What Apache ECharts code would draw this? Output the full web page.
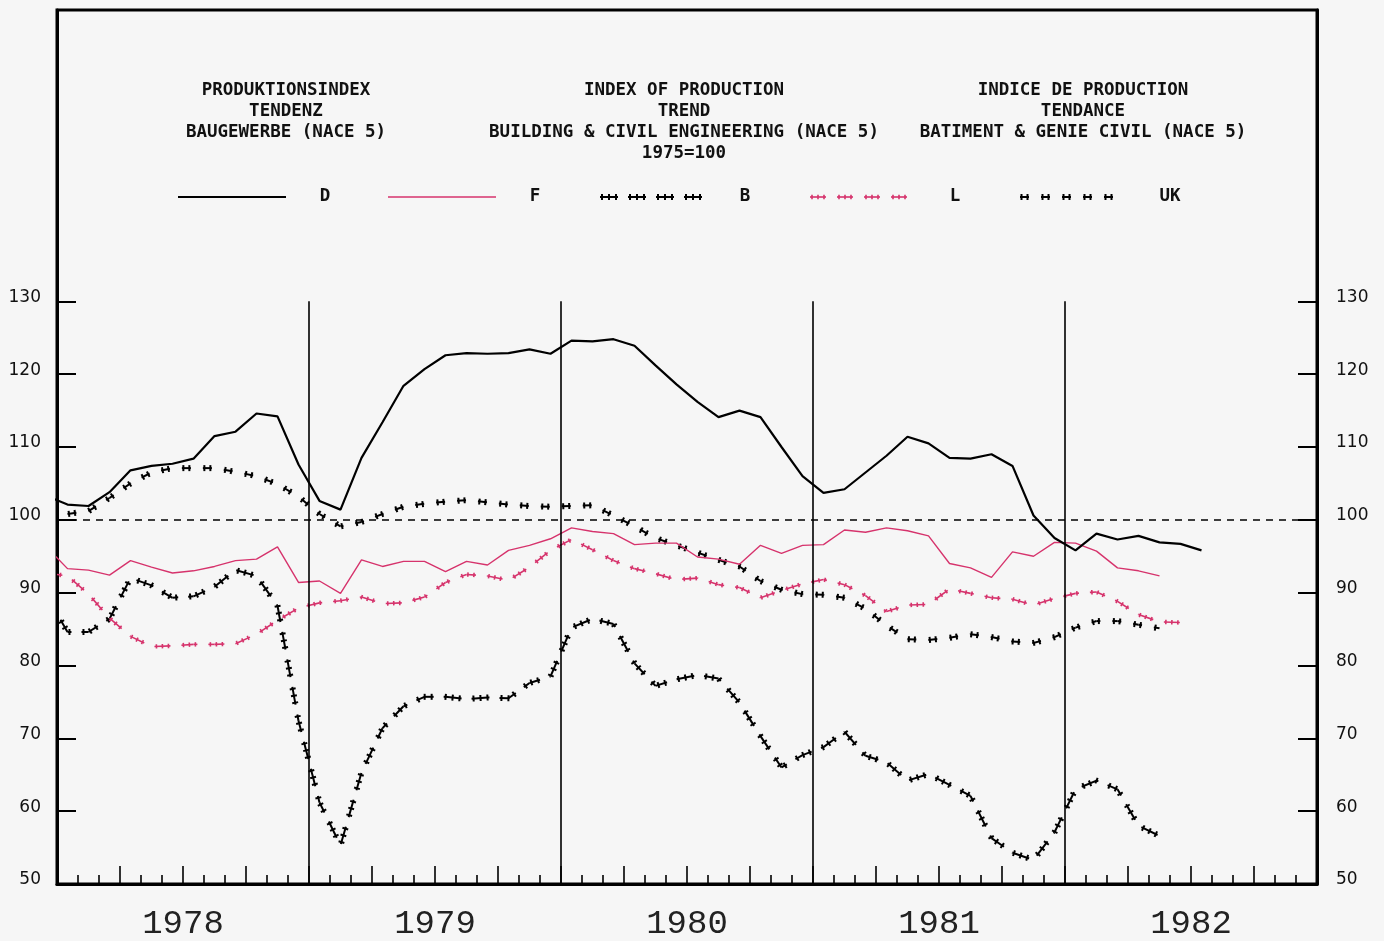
<!DOCTYPE html>
<html><head><meta charset="utf-8">
<script src="https://cdn.jsdelivr.net/npm/echarts@6/dist/echarts.min.js"></script>
<style>html,body{margin:0;padding:0;background:#f6f6f6;} #c{width:1384px;height:941px;}</style>
</head><body><div id="c"></div>
<script>
// x of first value: mid-December 1977, in months since 1 Jan 1978 (one value per month after it)
const X0 = -0.5;
const yearLabels = ['1978', '1979', '1980', '1981', '1982'];
const yTickValues = [50, 60, 70, 80, 90, 100, 110, 120, 130];
const titleDE = ['PRODUKTIONSINDEX', 'TENDENZ', 'BAUGEWERBE (NACE 5)'];
const titleEN = ['INDEX OF PRODUCTION', 'TREND', 'BUILDING & CIVIL ENGINEERING (NACE 5)', '1975=100'];
const titleFR = ['INDICE DE PRODUCTION', 'TENDANCE', 'BATIMENT & GENIE CIVIL (NACE 5)'];
const seriesNames = ['D', 'F', 'B', 'L', 'UK'];

const valuesD = [103.3, 102.1, 101.9, 103.8, 106.8, 107.4, 107.7, 108.4, 111.5, 112.1, 114.6, 114.2,
  107.6, 102.6, 101.4, 108.5, 113.4, 118.4, 120.7, 122.6, 122.9, 122.8, 122.9, 123.4,
  122.8, 124.6, 124.5, 124.8, 123.9, 121.2, 118.6, 116.2, 114.1, 115.0, 114.1, 110.0,
  106.0, 103.7, 104.2, 106.5, 108.8, 111.4, 110.5, 108.5, 108.4, 109.0, 107.4, 100.6,
  97.5, 95.8, 98.1, 97.3, 97.8, 96.9, 96.7, 95.8];
const valuesF = [96.3, 93.3, 93.1, 92.4, 94.4, 93.5, 92.7, 93.0, 93.6, 94.4, 94.6, 96.3,
  91.4, 91.6, 89.9, 94.5, 93.6, 94.3, 94.3, 92.9, 94.3, 93.8, 95.8, 96.5,
  97.4, 98.9, 98.4, 98.1, 96.6, 96.8, 96.8, 94.9, 94.6, 93.9, 96.5, 95.4,
  96.5, 96.6, 98.6, 98.3, 98.9, 98.5, 97.8, 94.0, 93.4, 92.1, 95.6, 95.0,
  96.9, 96.8, 95.7, 93.4, 93.0, 92.3];
const valuesB = [89.6, 84.6, 84.6, 86.4, 92.0, 91.0, 89.3, 89.5, 90.8, 93.1, 92.3, 88.2,
  72.4, 61.2, 55.3, 65.3, 71.4, 74.4, 75.7, 75.7, 75.4, 75.6, 75.5, 77.6,
  78.5, 85.2, 86.4, 85.7, 80.3, 77.2, 78.1, 78.7, 78.2, 74.9, 70.3, 66.0,
  67.7, 68.8, 70.9, 67.6, 66.7, 64.2, 65.1, 63.6, 62.1, 56.3, 54.3, 53.3,
  57.1, 63.0, 64.2, 63.0, 58.0, 56.6];
const valuesL = [92.7, 92.3, 89.8, 86.5, 84.0, 82.6, 82.7, 82.9, 82.9, 83.0, 84.3, 86.2,
  87.9, 88.6, 88.9, 89.4, 88.5, 88.6, 89.4, 91.4, 92.5, 92.3, 91.7, 93.5,
  95.8, 97.3, 95.9, 94.4, 93.3, 92.6, 91.8, 92.0, 91.1, 90.7, 89.3, 90.3,
  91.2, 91.8, 91.1, 89.6, 87.4, 88.3, 88.4, 90.5, 89.9, 89.3, 89.1, 88.3,
  89.2, 89.9, 90.1, 88.8, 87.0, 86.0, 85.9];
const valuesUK = [100.8, 100.8, 101.2, 103.0, 105.0, 106.5, 107.1, 107.1, 107.1, 106.6, 106.0, 104.9,
  103.2, 100.8, 99.1, 99.7, 100.8, 101.8, 102.2, 102.5, 102.7, 102.4, 102.1, 101.9,
  101.8, 101.9, 102.0, 100.6, 99.1, 97.5, 96.5, 95.5, 94.5, 93.6, 91.6, 90.4,
  89.8, 89.7, 89.3, 87.8, 85.5, 83.6, 83.5, 83.8, 84.3, 83.9, 83.3, 83.1,
  83.9, 85.2, 86.1, 86.1, 85.6, 85.1];

const BLACK = '#000000';
const PINK = '#d6336c';
const TXT_FONT = 'bold 17.5px "DejaVu Sans Mono"';

// dash patterns with perpendicular cross-bars
const patB = {period: 28, dash: 18, ticks: [2, 9, 16], tick: 3, width: 2, tickWidth: 2};
const patUK = {period: 21, dash: 9, ticks: [1.5, 7.5], tick: 3, width: 2, tickWidth: 2};
const patL = {period: 27, dash: 16, ticks: [2, 8, 14], tick: 2.2, width: 1.6, tickWidth: 1.6};

function toPairs(values) { return values.map((v, i) => [X0 + i, v]); }

function patternPieces(a, b, s0, color, cfg) {
  const len = Math.hypot(b[0] - a[0], b[1] - a[1]);
  const out = [];
  if (len <= 0) return out;
  const s1 = s0 + len;
  const ux = (b[0] - a[0]) / len, uy = (b[1] - a[1]) / len, nx = -uy, ny = ux;
  const P = cfg.period;
  for (let k = Math.floor(s0 / P); k * P < s1; k++) {
    const ds = Math.max(k * P, s0), de = Math.min(k * P + cfg.dash, s1);
    if (de > ds) {
      out.push({type: 'line', shape: {x1: a[0] + ux * (ds - s0), y1: a[1] + uy * (ds - s0), x2: a[0] + ux * (de - s0), y2: a[1] + uy * (de - s0)},
        style: {stroke: color, lineWidth: cfg.width}});
    }
    for (const t of cfg.ticks) {
      const s = k * P + t;
      if (s >= s0 && s < s1) {
        const cx = a[0] + ux * (s - s0), cy = a[1] + uy * (s - s0);
        out.push({type: 'line', shape: {x1: cx - nx * cfg.tick, y1: cy - ny * cfg.tick, x2: cx + nx * cfg.tick, y2: cy + ny * cfg.tick},
          style: {stroke: color, lineWidth: cfg.tickWidth}});
      }
    }
  }
  return out;
}

function trackSeries(name, values, color, cfg) {
  const pts = toPairs(values);
  return {
    name: name, type: 'custom', coordinateSystem: 'cartesian2d', clip: true, silent: true, z: 3,
    encode: {x: 0, y: 1},
    data: pts,
    renderItem: function (params, api) {
      const ctx = params.context;
      if (!ctx.px) {
        ctx.px = pts.map(p => api.coord(p));
        ctx.cum = [0];
        for (let k = 1; k < ctx.px.length; k++) {
          const a = ctx.px[k - 1], b = ctx.px[k];
          ctx.cum.push(ctx.cum[k - 1] + Math.hypot(b[0] - a[0], b[1] - a[1]));
        }
      }
      const i = params.dataIndex;
      if (i >= ctx.px.length - 1) return {type: 'group', children: []};
      return {type: 'group', children: patternPieces(ctx.px[i], ctx.px[i + 1], ctx.cum[i], color, cfg)};
    }
  };
}

// ----- text & legend graphics -----
const graphics = [];
function addBlock(lines, cx, y0) {
  lines.forEach((t, i) => graphics.push({type: 'text', x: cx, y: y0 + i * 21, silent: true,
    style: {text: t, font: TXT_FONT, fill: '#111', textAlign: 'center', textVerticalAlign: 'middle', align: 'center', verticalAlign: 'middle'}}));
}
addBlock(titleDE, 286, 90);
addBlock(titleEN, 684, 90);
addBlock(titleFR, 1083, 90);

const legendY = 197;
const legendItems = [
  {x1: 178, x2: 286, tx: 325, kind: 'solid', color: BLACK, w: 2},
  {x1: 388, x2: 496, tx: 535, kind: 'solid', color: PINK, w: 1.4},
  {x1: 600, x2: 706, tx: 745, kind: patB, color: BLACK},
  {x1: 810, x2: 915, tx: 955, kind: patL, color: PINK},
  {x1: 1020, x2: 1118, tx: 1170, kind: patUK, color: BLACK}
];
legendItems.forEach((it, i) => {
  if (it.kind === 'solid') {
    graphics.push({type: 'line', silent: true, shape: {x1: it.x1, y1: legendY, x2: it.x2, y2: legendY}, style: {stroke: it.color, lineWidth: it.w}});
  } else {
    patternPieces([it.x1, legendY], [it.x2, legendY], 0, it.color, it.kind).forEach(g => { g.silent = true; graphics.push(g); });
  }
  graphics.push({type: 'text', x: it.tx, y: legendY - 1, silent: true,
    style: {text: seriesNames[i], font: TXT_FONT, fill: '#111', textAlign: 'center', textVerticalAlign: 'middle', align: 'center', verticalAlign: 'middle'}});
});

// ----- reference lines -----
const yearBounds = yearLabels.slice(1).map((y, k) => (k + 1) * 12);
const markData = yearBounds.map(x => [{coord: [x, yTickValues[0]]}, {coord: [x, yTickValues[yTickValues.length - 1]]}]);
markData.push({yAxis: 100, lineStyle: {type: [7, 6], width: 1.6, color: BLACK}});

const yAxisCommon = {
  type: 'value', min: 50, max: 170, interval: 10,
  axisLine: {show: true, lineStyle: {color: BLACK, width: 3}},
  axisTick: {show: true, inside: true, length: 19, customValues: yTickValues, lineStyle: {color: BLACK, width: 2}},
  axisLabel: {show: true, customValues: yTickValues, color: '#111', fontFamily: 'DejaVu Sans', fontSize: 17,
    verticalAlign: 'bottom', lineHeight: 8},
  splitLine: {show: false}
};

const option = {
  animation: false,
  backgroundColor: '#f6f6f6',
  grid: {left: 57, right: 67, top: 10, bottom: 56, show: true, borderColor: BLACK, borderWidth: 3, backgroundColor: 'transparent'},
  xAxis: {
    type: 'value', min: 0, max: 60, interval: 3,
    axisLine: {show: true, onZero: false, lineStyle: {color: BLACK, width: 3}},
    axisTick: {show: true, inside: true, length: 18, lineStyle: {color: BLACK, width: 1.6}},
    minorTick: {show: true, splitNumber: 3, length: 9, lineStyle: {color: BLACK, width: 1.6}},
    axisLabel: {show: true, customValues: [6, 18, 30, 42, 54], formatter: v => yearLabels[Math.round((v - 6) / 12)],
      color: '#222', fontFamily: 'Liberation Mono', fontSize: 34, margin: 23},
    splitLine: {show: false}
  },
  yAxis: [
    Object.assign({position: 'left'}, yAxisCommon, {axisLabel: Object.assign({}, yAxisCommon.axisLabel, {margin: 16})}),
    Object.assign({position: 'right'}, yAxisCommon, {axisLabel: Object.assign({}, yAxisCommon.axisLabel, {margin: 19})})
  ],
  graphic: graphics,
  series: [
    {name: 'D', type: 'line', data: toPairs(valuesD), showSymbol: false, symbol: 'none', z: 4,
      lineStyle: {color: BLACK, width: 2.2}, clip: true, silent: true,
      markLine: {silent: true, symbol: ['none', 'none'], label: {show: false}, animation: false,
        lineStyle: {color: BLACK, width: 1.6, type: 'solid'}, data: markData}},
    {name: 'F', type: 'line', data: toPairs(valuesF), showSymbol: false, symbol: 'none', z: 3,
      lineStyle: {color: PINK, width: 1.4}, clip: true, silent: true},
    trackSeries('B', valuesB, BLACK, patB),
    trackSeries('L', valuesL, PINK, patL),
    trackSeries('UK', valuesUK, BLACK, patUK)
  ]
};

const chart = echarts.init(document.getElementById('c'), null, {renderer: 'canvas'});
chart.setOption(option);
</script>
</body></html>
